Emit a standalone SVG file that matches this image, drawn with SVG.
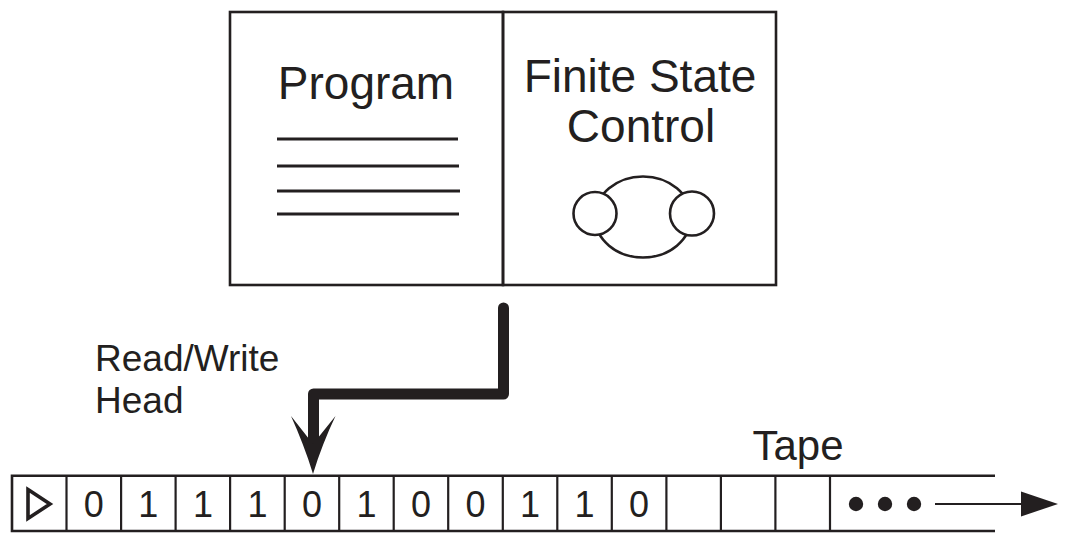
<svg xmlns="http://www.w3.org/2000/svg" width="1068" height="544" viewBox="0 0 1068 544">
<style>
.ln{stroke:#231f20;fill:none;stroke-width:2.6}
.t{font-family:"Liberation Sans",Arial,sans-serif;fill:#231f20}
.big{font-size:46px}
.lbl{font-size:37px}
.dg{font-size:36px;text-anchor:middle}
</style>
<rect width="1068" height="544" fill="#ffffff"/>
<g id="program">
<rect x="230" y="12" width="273" height="273" class="ln"/>
<text x="366" y="99" class="t big" text-anchor="middle">Program</text>
<g stroke="#231f20" stroke-width="3">
<line x1="277" y1="139" x2="458" y2="139"/>
<line x1="277" y1="166" x2="459" y2="166"/>
<line x1="277" y1="191" x2="460" y2="191"/>
<line x1="277" y1="214" x2="459" y2="214"/>
</g>
</g>
<g id="finite-state-control">
<rect x="503" y="12" width="273" height="273" class="ln"/>
<text x="640" y="92" class="t big" text-anchor="middle">Finite State</text>
<text x="641" y="142" class="t big" text-anchor="middle">Control</text>
<ellipse cx="643" cy="217" rx="48" ry="40.5" class="ln"/>
<circle cx="595" cy="213.5" r="21.5" fill="#ffffff" stroke="#231f20" stroke-width="2.6"/>
<circle cx="692" cy="213.5" r="22" fill="#ffffff" stroke="#231f20" stroke-width="2.6"/>
</g>
<g id="head-label">
<text x="95" y="371" class="t lbl">Read/Write</text>
<text x="95" y="413" class="t lbl">Head</text>
</g>
<g id="tape">
<text x="798" y="460" class="t" font-size="42" text-anchor="middle">Tape</text>
<path class="ln" d="M995,475.7 H12 V531 H995"/>
<g stroke="#231f20" stroke-width="2.2">
<line x1="66.5" y1="475.7" x2="66.5" y2="531"/>
<line x1="121.1" y1="475.7" x2="121.1" y2="531"/>
<line x1="175.6" y1="475.7" x2="175.6" y2="531"/>
<line x1="230.1" y1="475.7" x2="230.1" y2="531"/>
<line x1="284.7" y1="475.7" x2="284.7" y2="531"/>
<line x1="339.2" y1="475.7" x2="339.2" y2="531"/>
<line x1="393.7" y1="475.7" x2="393.7" y2="531"/>
<line x1="448.2" y1="475.7" x2="448.2" y2="531"/>
<line x1="502.8" y1="475.7" x2="502.8" y2="531"/>
<line x1="557.3" y1="475.7" x2="557.3" y2="531"/>
<line x1="611.8" y1="475.7" x2="611.8" y2="531"/>
<line x1="666.4" y1="475.7" x2="666.4" y2="531"/>
<line x1="720.9" y1="475.7" x2="720.9" y2="531"/>
<line x1="775.4" y1="475.7" x2="775.4" y2="531"/>
<line x1="830" y1="475.7" x2="830" y2="531"/>
</g>
<path d="M28,489.5 L50,504 L28,518.5 Z" fill="none" stroke="#231f20" stroke-width="3.6" stroke-linejoin="miter"/>
<g class="t dg">
<text x="93.8" y="517">0</text>
<text x="148.3" y="517">1</text>
<text x="202.9" y="517">1</text>
<text x="257.4" y="517">1</text>
<text x="311.9" y="517">0</text>
<text x="366.4" y="517">1</text>
<text x="421" y="517">0</text>
<text x="475.5" y="517">0</text>
<text x="530" y="517">1</text>
<text x="584.6" y="517">1</text>
<text x="639.1" y="517">0</text>
</g>
<g fill="#231f20">
<circle cx="856" cy="504" r="7.2"/>
<circle cx="885" cy="504" r="7.2"/>
<circle cx="914" cy="504" r="7.2"/>
</g>
</g>
<g id="connectors">
<path d="M503.5,308 V394 H313.5 V440" fill="none" stroke="#231f20" stroke-width="11" stroke-linejoin="round" stroke-linecap="round"/>
<path d="M313,474 C307,454 299,434 291,416 L313,444 L335.5,416 C327,434 319,454 313,474 Z" fill="#231f20"/>
<line x1="935" y1="504" x2="1024" y2="504" stroke="#231f20" stroke-width="2"/>
<path d="M1021,491.5 L1058,504 L1021,516.5 Z" fill="#231f20"/>
</g>
</svg>
